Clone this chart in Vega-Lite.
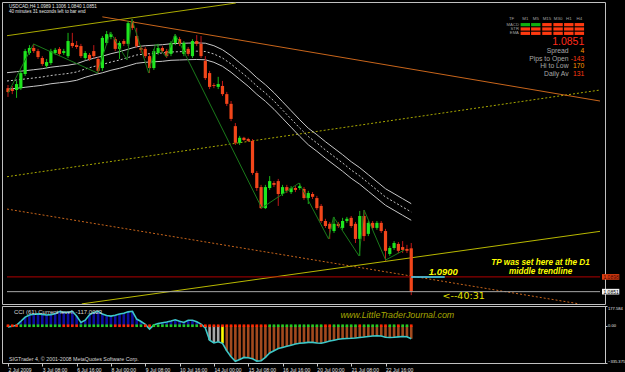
{
"$schema": "https://vega.github.io/schema/vega-lite/v6.json",
"background": "#000000",
"padding": {"left": 1, "top": 1, "right": 0, "bottom": 0},
"bounds": "flush",
"spacing": 2,
"config": {
 "view": {"stroke": "#c0c0c0", "strokeWidth": 1, "fill": "#000000"},
 "font": "Liberation Sans",
 "axis": {"grid": false, "labelFont": "Liberation Sans", "labelFontSize": 5, "labelColor": "#e6e6e6", "domainColor": "#c8c8c8", "tickColor": "#c8c8c8", "labelOverlap": false},
 "text": {"font": "Liberation Sans"}
},
"datasets": {
 "bars": [
{"i":0,"o":1.1499,"h":1.1509,"l":1.1471,"c":1.1487,"cci":-10,"sig":"d"},
{"i":1,"o":1.1496,"h":1.1506,"l":1.1480,"c":1.1490,"cci":-5,"sig":"d"},
{"i":2,"o":1.1493,"h":1.1522,"l":1.1468,"c":1.1512,"cci":5,"sig":"d"},
{"i":3,"o":1.1499,"h":1.1554,"l":1.1493,"c":1.1547,"cci":40,"sig":"u"},
{"i":4,"o":1.1544,"h":1.1624,"l":1.1538,"c":1.1617,"cci":78,"sig":"u"},
{"i":5,"o":1.1611,"h":1.1636,"l":1.1605,"c":1.1627,"cci":97,"sig":"u"},
{"i":6,"o":1.1627,"h":1.1640,"l":1.1611,"c":1.1617,"cci":103,"sig":"u"},
{"i":7,"o":1.1617,"h":1.1624,"l":1.1592,"c":1.1598,"cci":107,"sig":"u"},
{"i":8,"o":1.1595,"h":1.1601,"l":1.1570,"c":1.1576,"cci":102,"sig":"u"},
{"i":9,"o":1.1570,"h":1.1592,"l":1.1563,"c":1.1582,"cci":96,"sig":"u"},
{"i":10,"o":1.1579,"h":1.1624,"l":1.1573,"c":1.1617,"cci":100,"sig":"u"},
{"i":11,"o":1.1611,"h":1.1627,"l":1.1605,"c":1.1621,"cci":107,"sig":"u"},
{"i":12,"o":1.1624,"h":1.1630,"l":1.1601,"c":1.1608,"cci":128,"sig":"u"},
{"i":13,"o":1.1611,"h":1.1624,"l":1.1605,"c":1.1617,"cci":120,"sig":"d"},
{"i":14,"o":1.1601,"h":1.1675,"l":1.1595,"c":1.1649,"cci":122,"sig":"d"},
{"i":15,"o":1.1643,"h":1.1675,"l":1.1627,"c":1.1633,"cci":130,"sig":"d"},
{"i":16,"o":1.1636,"h":1.1649,"l":1.1624,"c":1.1630,"cci":88,"sig":"d"},
{"i":17,"o":1.1633,"h":1.1640,"l":1.1595,"c":1.1601,"cci":30,"sig":"u"},
{"i":18,"o":1.1595,"h":1.1617,"l":1.1589,"c":1.1611,"cci":50,"sig":"u"},
{"i":19,"o":1.1605,"h":1.1611,"l":1.1586,"c":1.1592,"cci":98,"sig":"u"},
{"i":20,"o":1.1617,"h":1.1636,"l":1.1595,"c":1.1601,"cci":120,"sig":"u"},
{"i":21,"o":1.1592,"h":1.1598,"l":1.1547,"c":1.1554,"cci":130,"sig":"u"},
{"i":22,"o":1.1563,"h":1.1665,"l":1.1554,"c":1.1659,"cci":105,"sig":"u"},
{"i":23,"o":1.1643,"h":1.1681,"l":1.1636,"c":1.1671,"cci":92,"sig":"u"},
{"i":24,"o":1.1662,"h":1.1678,"l":1.1655,"c":1.1671,"cci":87,"sig":"u"},
{"i":25,"o":1.1655,"h":1.1662,"l":1.1617,"c":1.1624,"cci":95,"sig":"d"},
{"i":26,"o":1.1624,"h":1.1649,"l":1.1592,"c":1.1643,"cci":105,"sig":"d"},
{"i":27,"o":1.1649,"h":1.1655,"l":1.1633,"c":1.1640,"cci":112,"sig":"d"},
{"i":28,"o":1.1640,"h":1.1713,"l":1.1633,"c":1.1706,"cci":125,"sig":"d"},
{"i":29,"o":1.1713,"h":1.1719,"l":1.1684,"c":1.1691,"cci":130,"sig":"d"},
{"i":30,"o":1.1665,"h":1.1691,"l":1.1627,"c":1.1633,"cci":60,"sig":"u"},
{"i":31,"o":1.1627,"h":1.1633,"l":1.1611,"c":1.1621,"cci":38,"sig":"u"},
{"i":32,"o":1.1624,"h":1.1630,"l":1.1595,"c":1.1601,"cci":12,"sig":"d"},
{"i":33,"o":1.1601,"h":1.1608,"l":1.1547,"c":1.1563,"cci":-30,"sig":"d"},
{"i":34,"o":1.1563,"h":1.1624,"l":1.1557,"c":1.1617,"cci":8,"sig":"u"},
{"i":35,"o":1.1611,"h":1.1640,"l":1.1605,"c":1.1627,"cci":20,"sig":"u"},
{"i":36,"o":1.1627,"h":1.1633,"l":1.1611,"c":1.1617,"cci":27,"sig":"u"},
{"i":37,"o":1.1617,"h":1.1624,"l":1.1595,"c":1.1601,"cci":34,"sig":"u"},
{"i":38,"o":1.1608,"h":1.1649,"l":1.1601,"c":1.1643,"cci":42,"sig":"u"},
{"i":39,"o":1.1643,"h":1.1671,"l":1.1636,"c":1.1665,"cci":54,"sig":"u"},
{"i":40,"o":1.1655,"h":1.1662,"l":1.1633,"c":1.1640,"cci":40,"sig":"u"},
{"i":41,"o":1.1608,"h":1.1649,"l":1.1601,"c":1.1643,"cci":30,"sig":"u"},
{"i":42,"o":1.1624,"h":1.1630,"l":1.1601,"c":1.1608,"cci":50,"sig":"u"},
{"i":43,"o":1.1601,"h":1.1655,"l":1.1595,"c":1.1649,"cci":50,"sig":"u"},
{"i":44,"o":1.1649,"h":1.1668,"l":1.1633,"c":1.1640,"cci":36,"sig":"u"},
{"i":45,"o":1.1640,"h":1.1665,"l":1.1595,"c":1.1601,"cci":15,"sig":"d"},
{"i":46,"o":1.1586,"h":1.1601,"l":1.1525,"c":1.1531,"cci":-20,"sig":"d"},
{"i":47,"o":1.1547,"h":1.1554,"l":1.1496,"c":1.1503,"cci":-130,"sig":"d"},
{"i":48,"o":1.1509,"h":1.1515,"l":1.1499,"c":1.1506,"cci":-155,"sig":"d"},
{"i":49,"o":1.1503,"h":1.1535,"l":1.1496,"c":1.1512,"cci":-145,"sig":"d"},
{"i":50,"o":1.1506,"h":1.1522,"l":1.1474,"c":1.1480,"cci":-158,"sig":"d"},
{"i":51,"o":1.1480,"h":1.1487,"l":1.1442,"c":1.1449,"cci":-225,"sig":"d"},
{"i":52,"o":1.1449,"h":1.1458,"l":1.1394,"c":1.1401,"cci":-280,"sig":"d"},
{"i":53,"o":1.1378,"h":1.1388,"l":1.1318,"c":1.1325,"cci":-320,"sig":"d"},
{"i":54,"o":1.1325,"h":1.1347,"l":1.1318,"c":1.1341,"cci":-303,"sig":"d"},
{"i":55,"o":1.1341,"h":1.1344,"l":1.1331,"c":1.1334,"cci":-285,"sig":"d"},
{"i":56,"o":1.1337,"h":1.1341,"l":1.1328,"c":1.1331,"cci":-288,"sig":"d"},
{"i":57,"o":1.1331,"h":1.1337,"l":1.1223,"c":1.1229,"cci":-298,"sig":"d"},
{"i":58,"o":1.1229,"h":1.1235,"l":1.1172,"c":1.1181,"cci":-318,"sig":"d"},
{"i":59,"o":1.1184,"h":1.1191,"l":1.1114,"c":1.1117,"cci":-315,"sig":"d"},
{"i":60,"o":1.1117,"h":1.1191,"l":1.1114,"c":1.1184,"cci":-285,"sig":"d"},
{"i":61,"o":1.1181,"h":1.1219,"l":1.1175,"c":1.1203,"cci":-245,"sig":"u"},
{"i":62,"o":1.1197,"h":1.1203,"l":1.1184,"c":1.1191,"cci":-225,"sig":"u"},
{"i":63,"o":1.1203,"h":1.1210,"l":1.1124,"c":1.1162,"cci":-205,"sig":"u"},
{"i":64,"o":1.1162,"h":1.1191,"l":1.1156,"c":1.1184,"cci":-195,"sig":"u"},
{"i":65,"o":1.1184,"h":1.1191,"l":1.1165,"c":1.1172,"cci":-185,"sig":"u"},
{"i":66,"o":1.1168,"h":1.1187,"l":1.1162,"c":1.1181,"cci":-175,"sig":"u"},
{"i":67,"o":1.1181,"h":1.1187,"l":1.1168,"c":1.1175,"cci":-165,"sig":"u"},
{"i":68,"o":1.1181,"h":1.1197,"l":1.1175,"c":1.1187,"cci":-157,"sig":"u"},
{"i":69,"o":1.1178,"h":1.1184,"l":1.1143,"c":1.1149,"cci":-154,"sig":"u"},
{"i":70,"o":1.1149,"h":1.1172,"l":1.1130,"c":1.1165,"cci":-150,"sig":"u"},
{"i":71,"o":1.1162,"h":1.1168,"l":1.1146,"c":1.1153,"cci":-150,"sig":"u"},
{"i":72,"o":1.1149,"h":1.1156,"l":1.1111,"c":1.1117,"cci":-155,"sig":"u"},
{"i":73,"o":1.1124,"h":1.1130,"l":1.1070,"c":1.1076,"cci":-157,"sig":"u"},
{"i":74,"o":1.1076,"h":1.1083,"l":1.1054,"c":1.1060,"cci":-148,"sig":"d"},
{"i":75,"o":1.1067,"h":1.1073,"l":1.1019,"c":1.1051,"cci":-138,"sig":"d"},
{"i":76,"o":1.1044,"h":1.1089,"l":1.1038,"c":1.1067,"cci":-130,"sig":"u"},
{"i":77,"o":1.1067,"h":1.1073,"l":1.1054,"c":1.1060,"cci":-122,"sig":"u"},
{"i":78,"o":1.1054,"h":1.1086,"l":1.1048,"c":1.1076,"cci":-117,"sig":"u"},
{"i":79,"o":1.1076,"h":1.1089,"l":1.1070,"c":1.1083,"cci":-115,"sig":"u"},
{"i":80,"o":1.1086,"h":1.1092,"l":1.1054,"c":1.1060,"cci":-113,"sig":"u"},
{"i":81,"o":1.1067,"h":1.1073,"l":1.1006,"c":1.1019,"cci":-110,"sig":"u"},
{"i":82,"o":1.1019,"h":1.1108,"l":1.0965,"c":1.1092,"cci":-106,"sig":"d"},
{"i":83,"o":1.1092,"h":1.1111,"l":1.1012,"c":1.1028,"cci":-102,"sig":"u"},
{"i":84,"o":1.1035,"h":1.1076,"l":1.1028,"c":1.1070,"cci":-97,"sig":"u"},
{"i":85,"o":1.1070,"h":1.1076,"l":1.1048,"c":1.1054,"cci":-93,"sig":"u"},
{"i":86,"o":1.1054,"h":1.1076,"l":1.1048,"c":1.1070,"cci":-91,"sig":"u"},
{"i":87,"o":1.1070,"h":1.1076,"l":1.1038,"c":1.1044,"cci":-93,"sig":"d"},
{"i":88,"o":1.1044,"h":1.1051,"l":1.0949,"c":1.0981,"cci":-104,"sig":"d"},
{"i":89,"o":1.0971,"h":1.0996,"l":1.0965,"c":1.0990,"cci":-106,"sig":"u"},
{"i":90,"o":1.0990,"h":1.1012,"l":1.0984,"c":1.1006,"cci":-104,"sig":"u"},
{"i":91,"o":1.1003,"h":1.1009,"l":1.0974,"c":1.0981,"cci":-100,"sig":"d"},
{"i":92,"o":1.0993,"h":1.1012,"l":1.0974,"c":1.0984,"cci":-97,"sig":"u"},
{"i":93,"o":1.0987,"h":1.1000,"l":1.0974,"c":1.0981,"cci":-99,"sig":"u"},
{"i":94,"o":1.0989,"h":1.1006,"l":1.0840,"c":1.0851,"cci":-117,"sig":"d"}
 ],
 "ma": [
{"i":-0.23,"ma":1.15218,"up":1.15482,"lo":1.14954},
{"i":2,"ma":1.15250,"up":1.15514,"lo":1.14986},
{"i":4,"ma":1.15282,"up":1.15546,"lo":1.15018},
{"i":6,"ma":1.15313,"up":1.15577,"lo":1.15049},
{"i":8,"ma":1.15345,"up":1.15609,"lo":1.15081},
{"i":10,"ma":1.15393,"up":1.15657,"lo":1.15129},
{"i":12,"ma":1.15425,"up":1.15689,"lo":1.15161},
{"i":14,"ma":1.15457,"up":1.15721,"lo":1.15193},
{"i":16,"ma":1.15504,"up":1.15768,"lo":1.15240},
{"i":18,"ma":1.15600,"up":1.15864,"lo":1.15336},
{"i":20,"ma":1.15679,"up":1.15943,"lo":1.15415},
{"i":22,"ma":1.15743,"up":1.16007,"lo":1.15479},
{"i":24,"ma":1.15823,"up":1.16087,"lo":1.15559},
{"i":26,"ma":1.15886,"up":1.16150,"lo":1.15622},
{"i":28,"ma":1.15966,"up":1.16230,"lo":1.15702},
{"i":30,"ma":1.16046,"up":1.16310,"lo":1.15782},
{"i":32,"ma":1.16077,"up":1.16341,"lo":1.15813},
{"i":34,"ma":1.16093,"up":1.16357,"lo":1.15829},
{"i":36,"ma":1.16109,"up":1.16373,"lo":1.15845},
{"i":38,"ma":1.16141,"up":1.16405,"lo":1.15877},
{"i":40,"ma":1.16151,"up":1.16415,"lo":1.15887},
{"i":42,"ma":1.16160,"up":1.16424,"lo":1.15896},
{"i":44,"ma":1.16167,"up":1.16431,"lo":1.15903},
{"i":46,"ma":1.16157,"up":1.16421,"lo":1.15893},
{"i":48,"ma":1.16077,"up":1.16341,"lo":1.15813},
{"i":50,"ma":1.15950,"up":1.16214,"lo":1.15686},
{"i":52,"ma":1.15759,"up":1.16023,"lo":1.15495},
{"i":54,"ma":1.15536,"up":1.15800,"lo":1.15272},
{"i":56,"ma":1.15313,"up":1.15577,"lo":1.15049},
{"i":58,"ma":1.15059,"up":1.15323,"lo":1.14795},
{"i":60,"ma":1.14836,"up":1.15100,"lo":1.14572},
{"i":62,"ma":1.14581,"up":1.14845,"lo":1.14317},
{"i":64,"ma":1.14294,"up":1.14558,"lo":1.14030},
{"i":66,"ma":1.14008,"up":1.14272,"lo":1.13744},
{"i":68,"ma":1.13721,"up":1.13985,"lo":1.13457},
{"i":70,"ma":1.13451,"up":1.13715,"lo":1.13187},
{"i":72,"ma":1.13244,"up":1.13508,"lo":1.12980},
{"i":74,"ma":1.13021,"up":1.13285,"lo":1.12757},
{"i":76,"ma":1.12814,"up":1.13078,"lo":1.12550},
{"i":78,"ma":1.12607,"up":1.12871,"lo":1.12343},
{"i":80,"ma":1.12384,"up":1.12648,"lo":1.12120},
{"i":82,"ma":1.12193,"up":1.12457,"lo":1.11929},
{"i":84,"ma":1.11970,"up":1.12234,"lo":1.11706},
{"i":86,"ma":1.11747,"up":1.12011,"lo":1.11483},
{"i":88,"ma":1.11524,"up":1.11788,"lo":1.11260},
{"i":90,"ma":1.11365,"up":1.11629,"lo":1.11101},
{"i":92,"ma":1.11206,"up":1.11470,"lo":1.10942},
{"i":94,"ma":1.11047,"up":1.11311,"lo":1.10783}
 ],
 "zz": [
{"i":0,"p":1.14836},{"i":5.96,"p":1.16396},{"i":20.86,"p":1.15472},{"i":23.84,"p":1.16778},
{"i":27.74,"p":1.15886},{"i":28.89,"p":1.17192},{"i":32.78,"p":1.15472},{"i":34.39,"p":1.16396},
{"i":36.9,"p":1.15982},{"i":38.97,"p":1.16714},{"i":41.5,"p":1.16014},{"i":59.15,"p":1.11174},
{"i":67.86,"p":1.1197},{"i":74.74,"p":1.10187},{"i":75.88,"p":1.10888},{"i":81.84,"p":1.09646},
{"i":83.0,"p":1.11111},{"i":88.03,"p":1.09518},{"i":92.39,"p":1.09837}
 ]
},
"vconcat": [
{
 "width": 603, "height": 302,
 "encoding": {
  "x": {"field": "i", "type": "quantitative", "scale": {"domain": [-0.23, 138], "nice": false, "zero": false}, "axis": null},
  "y": {"field": "p", "type": "quantitative", "title": null, "scale": {"domain": [1.08117, 1.17733], "nice": false, "zero": false},
        "axis": {"orient": "right", "values": [1.0815,1.087,1.0925,1.098,1.104,1.1095,1.115,1.121,1.1265,1.132,1.1375,1.1435,1.149,1.1545,1.1605,1.166,1.1715], "format": ".4f", "tickSize": 2, "labelPadding": 2, "labelFlush": false}}
 },
 "layer": [
  {"data": {"values": [{"i": -0.23, "p": 1.1217}, {"i": 138, "p": 1.1493}]}, "mark": {"type": "line", "color": "#a8a800", "strokeDash": [2, 2], "strokeWidth": 1, "clip": true}},
  {"data": {"values": [{"i": -0.23, "p": 1.1114}, {"i": 133.2, "p": 1.0812}]}, "mark": {"type": "line", "color": "#c8651b", "strokeDash": [2, 2], "strokeWidth": 1, "clip": true}},
  {"data": {"values": [{"i": -0.23, "p": 1.1666}, {"i": 53.1, "p": 1.177}]}, "mark": {"type": "line", "color": "#aaaa00", "strokeWidth": 1, "clip": true}},
  {"data": {"values": [{"i": 22.0, "p": 1.1726}, {"i": 138, "p": 1.1458}]}, "mark": {"type": "line", "color": "#c8651b", "strokeWidth": 1, "clip": true}},
  {"data": {"values": [{"i": 17.2, "p": 1.0812}, {"i": 138, "p": 1.1043}]}, "mark": {"type": "line", "color": "#b8b800", "strokeWidth": 1, "clip": true}},
  {"data": {"name": "ma"}, "mark": {"type": "line", "color": "#c8c8c8", "strokeWidth": 1, "clip": true},
   "encoding": {"y": {"field": "up", "type": "quantitative", "title": null, "scale": {"domain": [1.08117, 1.17733], "nice": false, "zero": false}, "axis": null}}},
  {"data": {"name": "ma"}, "mark": {"type": "line", "color": "#c8c8c8", "strokeWidth": 1, "strokeDash": [2, 2], "clip": true},
   "encoding": {"y": {"field": "ma", "type": "quantitative", "title": null, "scale": {"domain": [1.08117, 1.17733], "nice": false, "zero": false}, "axis": null}}},
  {"data": {"name": "ma"}, "mark": {"type": "line", "color": "#c8c8c8", "strokeWidth": 1, "clip": true},
   "encoding": {"y": {"field": "lo", "type": "quantitative", "title": null, "scale": {"domain": [1.08117, 1.17733], "nice": false, "zero": false}, "axis": null}}},
  {"data": {"name": "bars"}, "mark": {"type": "rule", "strokeWidth": 1, "clip": true},
   "encoding": {"y": {"field": "l", "type": "quantitative", "title": null, "scale": {"domain": [1.08117, 1.17733], "nice": false, "zero": false}, "axis": null},
                "y2": {"field": "h"},
                "color": {"condition": {"test": "datum.c >= datum.o", "value": "#18b818"}, "value": "#c01818"}}},
  {"data": {"name": "bars"}, "mark": {"type": "bar", "size": 3.2, "clip": true},
   "encoding": {"y": {"field": "o", "type": "quantitative", "title": null, "scale": {"domain": [1.08117, 1.17733], "nice": false, "zero": false}, "axis": null},
                "y2": {"field": "c"},
                "color": {"condition": {"test": "datum.c >= datum.o", "value": "#1ee61e"}, "value": "#f2461a"}}},
  {"data": {"name": "zz"}, "mark": {"type": "line", "color": "#1a7a1a", "strokeWidth": 1, "clip": true}},
  {"data": {"values": [{"i": -0.23, "p": 1.0898}, {"i": 138, "p": 1.0898}]}, "mark": {"type": "line", "color": "#b00000", "strokeWidth": 1}},
  {"data": {"values": [{"i": -0.23, "p": 1.0851}, {"i": 138, "p": 1.0851}]}, "mark": {"type": "line", "color": "#a8a8a8", "strokeWidth": 1}},
  {"data": {"values": [{"i": 94, "p": 1.0898}, {"i": 101.8, "p": 1.0898}]}, "mark": {"type": "line", "color": "#40e0ff", "strokeWidth": 1.5}},
  {"data": {"values": [{"i": 0.23, "p": 1.17584, "t": "USDCAD,H4 1.0989 1.1006 1.0840 1.0851"}, {"i": 0.23, "p": 1.17424, "t": "40 minutes 31 seconds left to bar end"}]},
   "mark": {"type": "text", "align": "left", "baseline": "middle", "fontSize": 4.6, "color": "#e8e8e8"}, "encoding": {"text": {"field": "t"}}},
  {"data": {"values": [{"i": 117.4, "p": 1.17201, "t": "TF"}, {"i": 120.59, "p": 1.17201, "t": "M1"}, {"i": 123.03, "p": 1.17201, "t": "M5"}, {"i": 125.63, "p": 1.17201, "t": "M15"}, {"i": 128.23, "p": 1.17201, "t": "M30"}, {"i": 130.72, "p": 1.17201, "t": "H1"}, {"i": 133.19, "p": 1.17201, "t": "H4"}]},
   "mark": {"type": "text", "align": "center", "baseline": "middle", "fontSize": 4.4, "color": "#a0a0a0"}, "encoding": {"text": {"field": "t"}}},
  {"data": {"values": [{"i": 119.1, "p": 1.17012, "t": "MACD"}, {"i": 119.1, "p": 1.16874, "t": "STR"}, {"i": 119.1, "p": 1.16735, "t": "EMA"}]},
   "mark": {"type": "text", "align": "right", "baseline": "middle", "fontSize": 4.2, "color": "#a0a0a0"}, "encoding": {"text": {"field": "t"}}},
  {"data": {"values": [
    {"ind": "MACD", "tf": "M1", "i": 120.59, "p": 1.17012, "sig": "u"}, {"ind": "MACD", "tf": "M5", "i": 123.03, "p": 1.17012, "sig": "u"},
    {"ind": "MACD", "tf": "M15", "i": 125.63, "p": 1.17012, "sig": "d"}, {"ind": "MACD", "tf": "M30", "i": 128.23, "p": 1.17012, "sig": "d"},
    {"ind": "MACD", "tf": "H1", "i": 130.72, "p": 1.17012, "sig": "d"}, {"ind": "MACD", "tf": "H4", "i": 133.19, "p": 1.17012, "sig": "d"},
    {"ind": "STR", "tf": "M1", "i": 120.59, "p": 1.16874, "sig": "d"}, {"ind": "STR", "tf": "M5", "i": 123.03, "p": 1.16874, "sig": "d"},
    {"ind": "STR", "tf": "M15", "i": 125.63, "p": 1.16874, "sig": "d"}, {"ind": "STR", "tf": "M30", "i": 128.23, "p": 1.16874, "sig": "d"},
    {"ind": "STR", "tf": "H1", "i": 130.72, "p": 1.16874, "sig": "d"}, {"ind": "STR", "tf": "H4", "i": 133.19, "p": 1.16874, "sig": "d"},
    {"ind": "EMA", "tf": "M1", "i": 120.59, "p": 1.16735, "sig": "d"}, {"ind": "EMA", "tf": "M5", "i": 123.03, "p": 1.16735, "sig": "d"},
    {"ind": "EMA", "tf": "M15", "i": 125.63, "p": 1.16735, "sig": "d"}, {"ind": "EMA", "tf": "M30", "i": 128.23, "p": 1.16735, "sig": "d"},
    {"ind": "EMA", "tf": "H1", "i": 130.72, "p": 1.16735, "sig": "d"}, {"ind": "EMA", "tf": "H4", "i": 133.19, "p": 1.16735, "sig": "d"}]},
   "mark": {"type": "tick", "orient": "horizontal", "size": 9.4, "thickness": 3.2, "opacity": 1},
   "encoding": {"color": {"condition": {"test": "datum.sig == 'u'", "value": "#10b010"}, "value": "#ff3a10"}}},
  {"data": {"values": [{"i": 134.34, "p": 1.1646, "t": "1.0851"}]},
   "mark": {"type": "text", "align": "right", "baseline": "middle", "fontSize": 10.5, "color": "#ff2a1a"}, "encoding": {"text": {"field": "t"}}},
  {"data": {"values": [{"i": 130.67, "p": 1.16173, "t": "Spread"}, {"i": 130.67, "p": 1.15928, "t": "Pips to Open"}, {"i": 130.67, "p": 1.15695, "t": "Hi to Low"}, {"i": 130.67, "p": 1.15431, "t": "Daily Av"}]},
   "mark": {"type": "text", "align": "right", "baseline": "middle", "fontSize": 6.8, "color": "#a8a8a8"}, "encoding": {"text": {"field": "t"}}},
  {"data": {"values": [{"i": 134.34, "p": 1.16173, "t": "4"}, {"i": 134.34, "p": 1.15695, "t": "170"}]},
   "mark": {"type": "text", "align": "right", "baseline": "middle", "fontSize": 6.8, "color": "#ff9a00"}, "encoding": {"text": {"field": "t"}}},
  {"data": {"values": [{"i": 134.34, "p": 1.15928, "t": "-143"}, {"i": 134.34, "p": 1.15431, "t": "131"}]},
   "mark": {"type": "text", "align": "right", "baseline": "middle", "fontSize": 6.8, "color": "#ff3a10"}, "encoding": {"text": {"field": "t"}}},
  {"data": {"values": [{"i": 124.15, "p": 1.09418, "t": "TP was set here at the D1"}, {"i": 124.15, "p": 1.09133, "t": "middle trendline"}]},
   "mark": {"type": "text", "align": "center", "baseline": "middle", "fontSize": 8.2, "fontStyle": "italic", "fontWeight": "bold", "color": "#ffff00"}, "encoding": {"text": {"field": "t"}}},
  {"data": {"values": [{"i": 98.1, "p": 1.09146, "t": "1.0900"}]},
   "mark": {"type": "text", "align": "left", "baseline": "middle", "fontSize": 9.5, "fontStyle": "italic", "fontWeight": "bold", "color": "#ffff00"}, "encoding": {"text": {"field": "t"}}},
  {"data": {"values": [{"i": 101.3, "p": 1.08372, "t": "<--40:31"}]},
   "mark": {"type": "text", "align": "left", "baseline": "middle", "font": "DejaVu Sans", "fontSize": 9.5, "color": "#e6e600"}, "encoding": {"text": {"field": "t"}}},
  {"data": {"values": [{"i": 138.46, "i2": 142.5, "p": 1.0907, "p2": 1.0889}]},
   "mark": {"type": "rect", "color": "#d83c10"}, "encoding": {"x2": {"field": "i2"}, "y2": {"field": "p2"}}},
  {"data": {"values": [{"i": 138.46, "i2": 142.5, "p": 1.086, "p2": 1.0842}]},
   "mark": {"type": "rect", "color": "#f2f2f2"}, "encoding": {"x2": {"field": "i2"}, "y2": {"field": "p2"}}},
  {"data": {"values": [{"i": 138.8, "p": 1.0898, "t": "1.0898"}]},
   "mark": {"type": "text", "align": "left", "baseline": "middle", "fontSize": 5, "color": "#3a0000"}, "encoding": {"text": {"field": "t"}}},
  {"data": {"values": [{"i": 138.8, "p": 1.0851, "t": "1.0851"}]},
   "mark": {"type": "text", "align": "left", "baseline": "middle", "fontSize": 5, "color": "#000000"}, "encoding": {"text": {"field": "t"}}}
 ]
},
{
 "width": 603, "height": 57,
 "encoding": {
  "x": {"field": "i", "type": "quantitative", "scale": {"domain": [-0.23, 138], "nice": false, "zero": false},
        "axis": {"title": null, "values": [0,8,16,24,32,40,48,56,64,72,80,88], "labelExpr": "['2 Jul 2009','3 Jul 08:00','6 Jul 16:00','8 Jul 00:00','9 Jul 08:00','10 Jul 16:00','14 Jul 00:00','15 Jul 08:00','16 Jul 16:00','20 Jul 00:00','21 Jul 08:00','22 Jul 16:00'][datum.value/8]", "labelAlign": "left", "labelFlush": false, "tickSize": 3, "labelPadding": 1, "domain": false}},
  "y": {"field": "cci", "type": "quantitative", "title": null, "scale": {"domain": [-335.375, 177.584], "nice": false, "zero": false},
        "axis": {"orient": "right", "values": [177.584, 0, -335.375], "labelExpr": "datum.value == 0 ? '0.00' : format(datum.value, '.3f')", "labelFlush": true, "tickSize": 2, "labelPadding": 0.5, "labelFontSize": 4.1}}
 },
 "layer": [
  {"data": {"name": "bars"}, "mark": {"type": "bar", "size": 2.6},
   "encoding": {"y2": {"datum": 0},
     "color": {"condition": [{"test": "datum.cci >= 0", "value": "#0d0da0"}, {"test": "datum.i >= 46 && datum.i <= 49", "value": "#a8a8a8"}, {"test": "datum.i == 50", "value": "#ffff00"}], "value": "#a24a1e"}}},
  {"data": {"name": "bars"}, "mark": {"type": "line", "color": "#3cc8c8", "strokeWidth": 1.6}},
  {"data": {"values": [{"i": -0.23, "i2": 138}]}, "mark": {"type": "rule", "color": "#909090", "strokeDash": [1, 2]},
   "encoding": {"x2": {"field": "i2"}, "y": {"datum": 0}}},
  {"data": {"name": "bars"}, "mark": {"type": "square", "size": 7, "filled": true, "opacity": 1},
   "encoding": {"y": {"datum": 0}, "color": {"condition": {"test": "datum.sig == 'u'", "value": "#22cc22"}, "value": "#ff2a00"}}},
  {"data": {"values": [{"i": 1.38, "cci": 123.6, "t": "CCI (61)  Current level: -117.0023"}]},
   "mark": {"type": "text", "align": "left", "baseline": "middle", "fontSize": 6, "color": "#d8d8d8"}, "encoding": {"text": {"field": "t"}}},
  {"data": {"values": [{"i": 0.23, "cci": -302, "t": "SIGTrader 4, © 2001-2008 MetaQuotes Software Corp."}]},
   "mark": {"type": "text", "align": "left", "baseline": "middle", "fontSize": 5.3, "color": "#d8d8d8"}, "encoding": {"text": {"field": "t"}}},
  {"data": {"values": [{"i": 77.5, "cci": 96.6, "t": "www.LittleTraderJournal.com"}]},
   "mark": {"type": "text", "align": "left", "baseline": "middle", "fontSize": 8.9, "fontStyle": "italic", "color": "#a6a600"}, "encoding": {"text": {"field": "t"}}}
 ]
}
]
}
